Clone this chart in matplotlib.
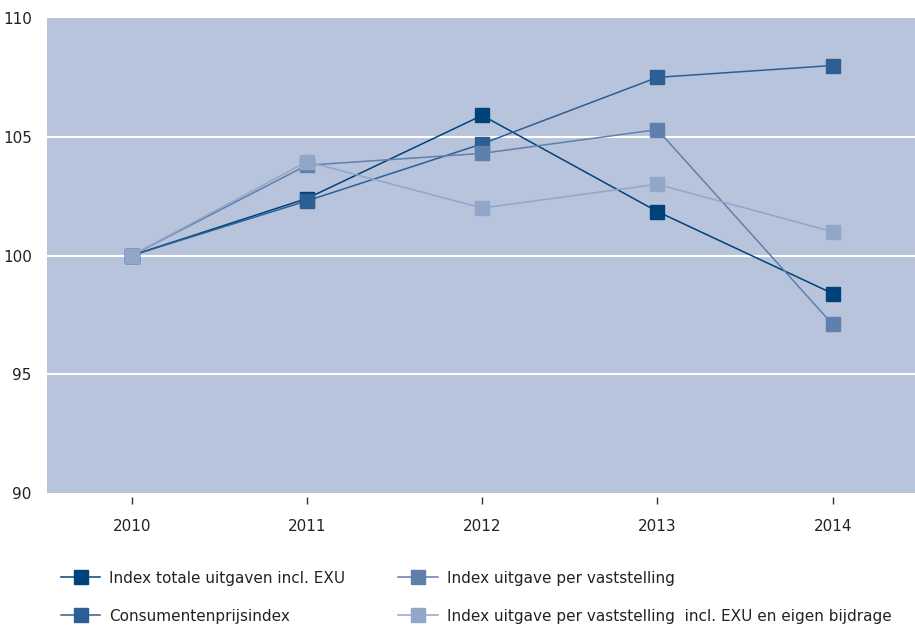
"""
Index uitgaven 2010-2014 — line chart with square markers.
"""

import matplotlib
matplotlib.use("Agg")
import matplotlib.pyplot as plt

years = [2010, 2011, 2012, 2013, 2014]

totale_uitgaven   = [100.0, 102.4, 105.9, 101.85, 98.4]
consumentenprijs  = [100.0, 102.3, 104.7, 107.5, 108.0]
per_vaststelling  = [100.0, 103.8, 104.3, 105.3, 97.1]
vaststelling_exu  = [100.0, 103.95, 102.0, 103.0, 101.0]

labels = ["Index totale uitgaven incl. EXU",
          "Consumentenprijsindex",
          "Index uitgave per vaststelling",
          "Index uitgave per vaststelling  incl. EXU en eigen bijdrage"]
colors = ["#00427a", "#2e5f94", "#5f7fad", "#92a6c8"]
series = [totale_uitgaven, consumentenprijs, per_vaststelling, vaststelling_exu]

y_ticks = [90, 95, 100, 105, 110]

fig = plt.figure(figsize=(9.15, 6.28), dpi=100)
ax = fig.add_axes([47 / 915, 1 - 493 / 628, 1 - 47 / 915, (493 - 18) / 628])
ax.set_facecolor("#b8c4dc")

handles = []
for vals, col, lab in zip(series, colors, labels):
    h, = ax.plot(years, vals, color=col, lw=1.1, marker="s", ms=10,
                 mec=col, mfc=col, label=lab, zorder=3)
    handles.append(h)

ax.set_xlim(2009.517, 2014.47)
ax.set_ylim(90, 110)
ax.set_xticks(years)
ax.set_yticks(y_ticks)
for yv in y_ticks[1:-1]:
    ax.axhline(yv, color="white", lw=1.5, zorder=1)

for s in ax.spines.values():
    s.set_visible(False)
ax.spines["bottom"].set_position(("outward", 3))

ax.tick_params(axis="x", length=5, width=1, color="#333333", pad=11,
               labelsize=11, labelcolor="#222222")
ax.tick_params(axis="y", length=0, pad=11, labelsize=11,
               labelcolor="#222222")

fig.legend(handles=handles, ncol=2, loc="upper left",
           bbox_to_anchor=(47 / 915, 1 - 557 / 628), frameon=False,
           fontsize=11, handlelength=2.6, handletextpad=0.55,
           columnspacing=3.5, labelspacing=1.5, markerscale=0.95,
           labelcolor="#222222")

plt.savefig("out.png", dpi=100)
plt.close()
